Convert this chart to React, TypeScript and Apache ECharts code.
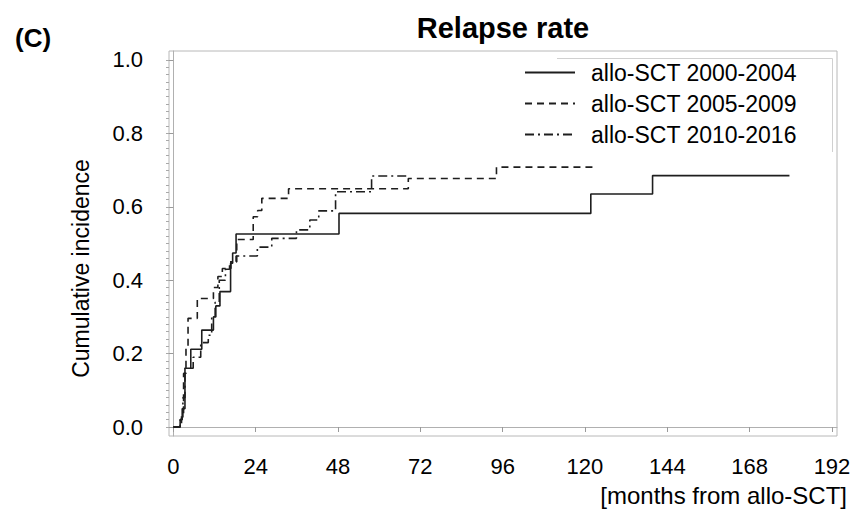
import React, { useEffect, useRef } from "react";
import * as echarts from "echarts";

// ---- data (months from allo-SCT, cumulative incidence) ----
const seriesNames = ["allo-SCT 2000-2004", "allo-SCT 2005-2009", "allo-SCT 2010-2016"];

const t2000 = [0, 2.0, 2.6, 3.4, 5.1, 8.3, 11.7, 12.4, 13.6, 16.7, 17.3, 18.3, 48.3, 121.7, 139.7, 179.6];
const v2000 = [0, 0.02, 0.05, 0.16, 0.212, 0.264, 0.3, 0.33, 0.369, 0.446, 0.474, 0.526, 0.582, 0.635, 0.685, 0.685];

const t2005 = [0, 2.4, 3.0, 3.7, 4.3, 7.0, 11.7, 13.0, 14.3, 16.8, 18.5, 23.3, 24.6, 25.8, 33.6, 68.5, 94.2, 122.2];
const v2005 = [0, 0.03, 0.146, 0.22, 0.296, 0.35, 0.38, 0.41, 0.432, 0.45, 0.511, 0.573, 0.59, 0.623, 0.649, 0.677, 0.708, 0.708];

const t2010 = [0, 2.0, 2.8, 3.4, 5.8, 8.0, 10.2, 11.2, 12.2, 13.4, 15.2, 16.4, 18.3, 24.5, 28.7, 35.9, 39.8, 42.4, 47.3, 57.8, 68.5];
const v2010 = [0, 0.02, 0.08, 0.16, 0.19, 0.23, 0.25, 0.3, 0.34, 0.4, 0.43, 0.45, 0.466, 0.49, 0.514, 0.537, 0.564, 0.589, 0.641, 0.684, 0.684];

const xTicks = [0, 24, 48, 72, 96, 120, 144, 168, 192];
const yTicks = [0, 0.2, 0.4, 0.6, 0.8, 1.0];
const yMinorTicks = Array.from({ length: 51 }, (_, i) => Math.round(i * 2) / 100);

const xAxisTitle = "[months from allo-SCT]";
const yAxisTitle = "Cumulative incidence";

const FONT = "'Liberation Sans', Arial, Helvetica, sans-serif";
const LINE_COLOR = "#1e1e1e";
const dashStyles: any[] = ["solid", [7, 5], [9, 4, 2, 4]];

const zip = (t: number[], v: number[]) => t.map((x, i) => [x, v[i]]);

export default function App() {
  const ref = useRef<HTMLDivElement>(null);

  useEffect(() => {
    if (!ref.current) return;
    const chart = echarts.init(ref.current, undefined, { renderer: "svg" });
    const datasets = [zip(t2000, v2000), zip(t2005, v2005), zip(t2010, v2010)];

    const option: any = {
      animation: false,
      backgroundColor: "#ffffff",
      title: [
        {
          text: "(C)",
          left: 10,
          top: 20,
          textStyle: { fontSize: 26, fontWeight: "bold", color: "#000", fontFamily: FONT },
        },
        {
          text: "Relapse rate",
          left: 498,
          top: 8,
          textAlign: "center",
          textStyle: { fontSize: 29, fontWeight: "bold", color: "#000", fontFamily: FONT },
        },
      ],
      grid: {
        left: 169,
        right: 17,
        top: 51,
        bottom: 78,
        containLabel: false,
        outerBoundsMode: "none",
        show: true,
        borderColor: "#b8b8b8",
        borderWidth: 1,
        backgroundColor: "transparent",
      },
      legend: {
        orient: "vertical",
        left: 519,
        top: 56,
        itemWidth: 50,
        itemHeight: 14,
        itemGap: 8,
        selectedMode: false,
        itemStyle: { opacity: 0, borderWidth: 0 },
        textStyle: { fontSize: 23, color: "#000", fontFamily: FONT, padding: [0, 0, 0, 11] },
        data: seriesNames,
      },
      xAxis: {
        type: "value",
        min: -1.25,
        max: 193.46,
        axisLine: { show: true, lineStyle: { color: "#b0b0b0", width: 1 } },
        axisTick: { show: true, length: 5, customValues: xTicks, lineStyle: { color: "#9a9a9a" } },
        axisLabel: {
          customValues: xTicks,
          fontSize: 22,
          color: "#000",
          fontFamily: FONT,
          margin: 19,
        },
        splitLine: { show: false },
      },
      yAxis: [
        {
          type: "value",
          min: -0.0245,
          max: 1.0245,
          axisLine: { show: true, lineStyle: { color: "#b0b0b0", width: 1 } },
          axisTick: { show: true, length: 5, customValues: yTicks, lineStyle: { color: "#9a9a9a" } },
          axisLabel: {
            customValues: yTicks,
            fontSize: 22,
            color: "#000",
            fontFamily: FONT,
            margin: 26,
            formatter: (v: number) => v.toFixed(1),
          },
          splitLine: { show: false },
          name: yAxisTitle,
          nameLocation: "middle",
          nameGap: 77,
          nameTextStyle: { fontSize: 23, color: "#000", fontFamily: FONT, padding: [0, 50, 0, 0] },
        },
        {
          type: "value",
          min: -0.0245,
          max: 1.0245,
          position: "left",
          axisLine: { show: false },
          axisTick: { show: true, length: 3, customValues: yMinorTicks, lineStyle: { color: "#a8a8a8" } },
          axisLabel: { show: false },
          splitLine: { show: false },
        },
      ],
      graphic: [
        {
          type: "line",
          shape: { x1: 557, y1: 58.5, x2: 832.5, y2: 58.5 },
          style: { stroke: "#d0d0d0", lineWidth: 1 },
          silent: true,
        },
        {
          type: "line",
          shape: { x1: 832.5, y1: 58.5, x2: 832.5, y2: 152 },
          style: { stroke: "#d0d0d0", lineWidth: 1 },
          silent: true,
        },
        {
          type: "text",
          right: 7,
          top: 483,
          style: { text: xAxisTitle, font: `24px ${FONT}`, fill: "#000" },
          silent: true,
        },
      ],
      series: seriesNames.map((n, i) => ({
        name: n,
        type: "line",
        step: "end",
        symbol: "none",
        yAxisIndex: 0,
        data: datasets[i],
        lineStyle: { color: LINE_COLOR, width: 1.6, type: dashStyles[i] },
        itemStyle: { color: LINE_COLOR },
        emphasis: { disabled: true },
      })),
    };

    chart.setOption(option);
    return () => chart.dispose();
  }, []);

  return <div ref={ref} style={{ width: 854, height: 514, position: "absolute", left: 0, top: 0 }} />;
}
